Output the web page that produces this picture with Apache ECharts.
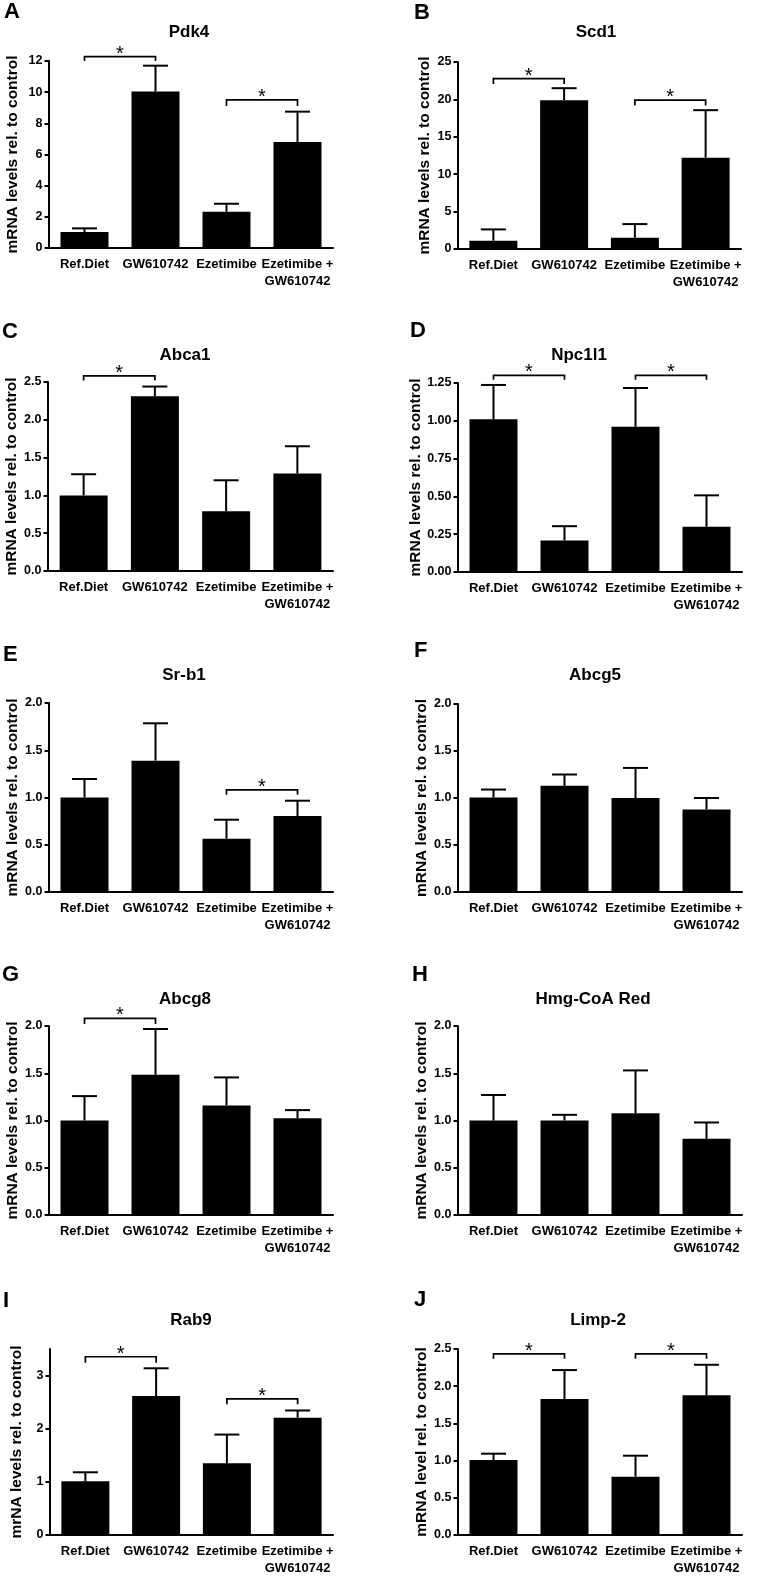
<!DOCTYPE html>
<html><head><meta charset="utf-8">
<script src="https://cdn.jsdelivr.net/npm/echarts@6/dist/echarts.min.js"></script>
<style>html,body{margin:0;padding:0;background:#fff}#c{width:758px;height:1577px}</style>
</head><body><div id="c"></div>
<script>
// ---------------- DATA ----------------
const categories = ['Ref.Diet', 'GW610742', 'Ezetimibe', 'Ezetimibe +\nGW610742'];
const panelLetters = ['A', 'B', 'C', 'D', 'E', 'F', 'G', 'H', 'I', 'J'];
const geneNames = ['Pdk4', 'Scd1', 'Abca1', 'Npc1l1', 'Sr-b1', 'Abcg5', 'Abcg8', 'Hmg-CoA Red', 'Rab9', 'Limp-2'];
const yAxisNames = [
  'mRNA levels rel. to control', 'mRNA levels rel. to control', 'mRNA levels rel. to control',
  'mRNA levels rel. to control', 'mRNA levels rel. to control', 'mRNA levels rel. to control',
  'mRNA levels rel. to control', 'mRNA levels rel. to control', 'mrNA levels rel. to control',
  'mRNA level rel. to control'
];

// bar means and upper end of error bars
const pdk4Mean = [1.02, 10.04, 2.33, 6.81];
const pdk4Upper = [1.26, 11.7, 2.84, 8.75];
const scd1Mean = [1.11, 19.9, 1.51, 12.21];
const scd1Upper = [2.62, 21.5, 3.33, 18.56];
const abca1Mean = [1.00, 2.31, 0.79, 1.29];
const abca1Upper = [1.28, 2.44, 1.20, 1.65];
const npc1l1Mean = [1.01, 0.208, 0.96, 0.299];
const npc1l1Upper = [1.237, 0.303, 1.217, 0.507];
const srb1Mean = [1.00, 1.39, 0.564, 0.804];
const srb1Upper = [1.196, 1.785, 0.765, 0.966];
const abcg5Mean = [1.005, 1.13, 1.0, 0.878];
const abcg5Upper = [1.09, 1.25, 1.32, 1.0];
const abcg8Mean = [1.0, 1.484, 1.159, 1.025];
const abcg8Upper = [1.258, 1.968, 1.456, 1.11];
const hmgMean = [1.0, 1.0, 1.078, 0.806];
const hmgUpper = [1.27, 1.06, 1.53, 0.979];
const rab9Mean = [1.01, 2.616, 1.35, 2.207];
const rab9Upper = [1.18, 3.137, 1.89, 2.343];
const limp2Mean = [1.009, 1.827, 0.783, 1.88];
const limp2Upper = [1.093, 2.217, 1.066, 2.288];

// significance brackets: [from category, to category, bracket level, end of bracket legs]
const pdk4Sig = [[0, 1, 12.28, 12.0], [2, 3, 9.5, 9.12]];
const scd1Sig = [[0, 1, 22.78, 22.07], [2, 3, 19.9, 19.18]];
const abca1Sig = [[0, 1, 2.58, 2.52]];
const npc1l1Sig = [[0, 1, 1.30, 1.272], [2, 3, 1.30, 1.272]];
const srb1Sig = [[2, 3, 1.08, 1.03]];
const abcg5Sig = [];
const abcg8Sig = [[0, 1, 2.08, 2.02]];
const hmgSig = [];
const rab9Sig = [[0, 1, 3.354, 3.24], [2, 3, 2.56, 2.46]];
const limp2Sig = [[0, 1, 2.434, 2.37], [2, 3, 2.434, 2.37]];

// y-axis ticks
const pdk4Ticks = [0, 2, 4, 6, 8, 10, 12];
const scd1Ticks = [0, 5, 10, 15, 20, 25];
const abca1Ticks = [0, 0.5, 1.0, 1.5, 2.0, 2.5];
const npc1l1Ticks = [0, 0.25, 0.5, 0.75, 1.0, 1.25];
const twoTicks = [0, 0.5, 1.0, 1.5, 2.0];
const rab9Ticks = [0, 1, 2, 3];
const limp2Ticks = [0, 0.5, 1.0, 1.5, 2.0, 2.5];
const tickDecimals = [0, 0, 1, 2, 1, 1, 1, 1, 0, 1];
const axisMax = [12, 25, 2.5, 1.25, 2, 2, 2, 2, 3.5, 2.5];

const means = [pdk4Mean, scd1Mean, abca1Mean, npc1l1Mean, srb1Mean, abcg5Mean, abcg8Mean, hmgMean, rab9Mean, limp2Mean];
const uppers = [pdk4Upper, scd1Upper, abca1Upper, npc1l1Upper, srb1Upper, abcg5Upper, abcg8Upper, hmgUpper, rab9Upper, limp2Upper];
const sigs = [pdk4Sig, scd1Sig, abca1Sig, npc1l1Sig, srb1Sig, abcg5Sig, abcg8Sig, hmgSig, rab9Sig, limp2Sig];
const ticks = [pdk4Ticks, scd1Ticks, abca1Ticks, npc1l1Ticks, twoTicks, twoTicks, twoTicks, twoTicks, rab9Ticks, limp2Ticks];

// ---------------- LAYOUT (px) ----------------
const layout = [
  {left: 49, top: 61, width: 284, height: 187, tx: 189, ty: 24, lx: 4, ly: 1, ng: 28},
  {left: 458, top: 62, width: 283, height: 187, tx: 596, ty: 24, lx: 414, ly: 2, ng: 25},
  {left: 48, top: 382, width: 285, height: 189, tx: 185, ty: 347, lx: 2, ly: 321, ng: 28},
  {left: 458, top: 383, width: 284, height: 189, tx: 579, ty: 347, lx: 410, ly: 320, ng: 29},
  {left: 49, top: 703, width: 284, height: 189, tx: 184, ty: 667, lx: 3, ly: 644, ng: 28},
  {left: 458, top: 704, width: 284, height: 188, tx: 595, ty: 667, lx: 414, ly: 640, ng: 28},
  {left: 49, top: 1026, width: 284, height: 189, tx: 185, ty: 991, lx: 2, ly: 964, ng: 28},
  {left: 458, top: 1026, width: 284, height: 189, tx: 593, ty: 991, lx: 412, ly: 964, ng: 28},
  {left: 50, top: 1349, width: 283, height: 189, tx: 191, ty: 1312, lx: 3, ly: 1290, ng: 25},
  {left: 458, top: 1349, width: 284, height: 189, tx: 598, ty: 1312, lx: 414, ly: 1289, ng: 28}
];

const FONT = '"Liberation Sans", Arial, Helvetica, sans-serif';
const black = '#000';

const option = {
  animation: false,
  backgroundColor: '#fff',
  title: [],
  grid: [],
  xAxis: [],
  yAxis: [],
  series: []
};

for (let i = 0; i < 10; i++) {
  const L = layout[i];
  option.title.push({
    text: geneNames[i], left: L.tx, top: L.ty, padding: 0, textAlign: 'center',
    textStyle: {fontFamily: FONT, fontSize: 17, fontWeight: 'bold', color: black}
  });
  option.title.push({
    text: panelLetters[i], left: L.lx, top: L.ly, padding: 0,
    textStyle: {fontFamily: FONT, fontSize: 22, fontWeight: 'bold', color: black}
  });
  option.grid.push({left: L.left, top: L.top, width: L.width, height: L.height});
  option.xAxis.push({
    type: 'category', gridIndex: i, data: categories,
    axisLine: {lineStyle: {color: black, width: 2}},
    axisTick: {alignWithLabel: true, length: 5, lineStyle: {color: black, width: 2}},
    axisLabel: {interval: 0, color: black, fontFamily: FONT, fontWeight: 'bold', fontSize: 13, lineHeight: 17, margin: 8}
  });
  const tk = ticks[i];
  const dec = tickDecimals[i];
  option.yAxis.push({
    type: 'value', gridIndex: i, min: 0, max: axisMax[i], interval: tk[1] - tk[0],
    splitLine: {show: false},
    axisLine: {show: true, lineStyle: {color: black, width: 2}},
    axisTick: {show: true, length: 4.5, customValues: tk, lineStyle: {color: black, width: 2}},
    axisLabel: {customValues: tk, color: black, fontFamily: FONT, fontWeight: 'bold', fontSize: 12.5, margin: 6.5,
      formatter: v => Number(v).toFixed(dec)},
    name: yAxisNames[i], nameLocation: 'middle', nameGap: L.ng,
    nameTextStyle: {color: black, fontFamily: FONT, fontWeight: 'bold', fontSize: 15.5}
  });
  option.series.push({
    type: 'bar', xAxisIndex: i, yAxisIndex: i, data: means[i], barWidth: 48,
    itemStyle: {color: black}, silent: true, z: 2
  });
  option.series.push({
    type: 'custom', xAxisIndex: i, yAxisIndex: i, z: 3, silent: true,
    encode: {x: 0, y: [1, 2]},
    data: means[i].map((m, k) => [k, m, uppers[i][k]]),
    renderItem: (params, api) => {
      const p0 = api.coord([api.value(0), api.value(1)]);
      const p1 = api.coord([api.value(0), api.value(2)]);
      return {type: 'group', children: [
        {type: 'line', shape: {x1: p0[0], y1: p0[1], x2: p1[0], y2: p1[1]}, style: {stroke: black, lineWidth: 2}},
        {type: 'line', shape: {x1: p1[0] - 12.5, y1: p1[1], x2: p1[0] + 12.5, y2: p1[1]}, style: {stroke: black, lineWidth: 2}}
      ]};
    }
  });
  option.series.push({
    type: 'custom', xAxisIndex: i, yAxisIndex: i, z: 4, silent: true, clip: false,
    encode: {x: [0, 1], y: [2, 3]},
    data: sigs[i],
    renderItem: (params, api) => {
      const a = api.coord([api.value(0), api.value(2)]);
      const b = api.coord([api.value(1), api.value(2)]);
      const a2 = api.coord([api.value(0), api.value(3)]);
      const b2 = api.coord([api.value(1), api.value(3)]);
      return {type: 'group', children: [
        {type: 'polyline', shape: {points: [a2, a, b, b2]}, style: {stroke: black, lineWidth: 1.7, fill: null}},
        {type: 'text', x: (a[0] + b[0]) / 2, y: a[1] - 2.5,
          style: {text: '*', fontFamily: FONT, fontSize: 20, fill: black, align: 'center', verticalAlign: 'middle'}}
      ]};
    }
  });
}

const chart = echarts.init(document.getElementById('c'), null, {renderer: 'canvas'});
chart.setOption(option);
</script>
</body></html>
